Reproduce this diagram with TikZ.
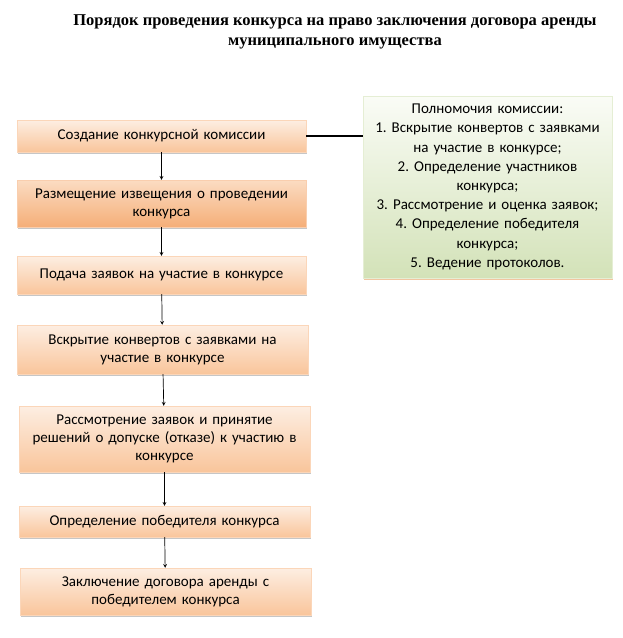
\documentclass[tikz,border=0pt]{standalone}
\usepackage{fontspec}
\setmainfont{Liberation Serif}
\newfontfamily\boxfont{Carlito}
\usetikzlibrary{shadows}
\frenchspacing

\definecolor{peachtop}{HTML}{FDEEE2}
\definecolor{peachbot}{HTML}{F9C59B}
\definecolor{orangetop}{HTML}{FBDCC2}
\definecolor{orangebot}{HTML}{F5AE78}
\definecolor{greentop}{HTML}{FAFCF6}
\definecolor{greenbot}{HTML}{D3E2B8}

\tikzset{
  stepbox/.style={draw=peachbot!70, top color=peachtop, bottom color=peachbot,
    text width=#1, align=center, inner sep=3pt, font=\boxfont\fontsize{15}{18}\selectfont,
    drop shadow={shadow xshift=1.2pt, shadow yshift=-1.5pt, opacity=0.45}},
  stepbox/.default=283pt,
  flow/.style={-stealth, line width=0.7pt}
}

\begin{document}
\begin{tikzpicture}[x=1pt,y=-1pt]
    \useasboundingbox (0,0) rectangle (622,638);

    \node[font=\bfseries\fontsize{16.5}{20}\selectfont, align=center] (title) at (335,32)
      {Порядок проведения конкурса на право заключения договора аренды\\муниципального имущества};

    \node[stepbox, minimum height=32pt] (create) at (161.5,136) {Создание конкурсной комиссии};
    \node[stepbox, minimum height=47pt, top color=orangetop, bottom color=orangebot, draw=orangebot!60]
      (notice) at (161.5,203.5) {Размещение извещения о проведении\\конкурса};
    \node[stepbox, minimum height=38pt] (apply) at (161.5,275) {Подача заявок на участие в конкурсе};
    \node[stepbox=285pt, minimum height=49pt] (open) at (162.5,349.5)
      {Вскрытие конвертов с заявками на\\участие в конкурсе};
    \node[stepbox=285pt, minimum height=66pt] (review) at (164.5,439)
      {Рассмотрение заявок и принятие\\решений о допуске (отказе) к участию в\\конкурсе};
    \node[stepbox=285pt, minimum height=31pt] (winner) at (164.5,521.5) {Определение победителя конкурса};
    \node[stepbox=285pt, minimum height=47pt] (contract) at (165.5,591.5)
      {Заключение договора аренды с\\победителем конкурса};

    \node[draw=greenbot!60, top color=greentop, bottom color=greenbot, text width=243pt,
      minimum height=182pt, align=center, inner sep=3pt, font=\boxfont\fontsize{15}{19.2}\selectfont,
      drop shadow={shadow xshift=1pt, shadow yshift=-1.5pt, fill=peachbot!80!brown, opacity=0.8}]
      (powers) at (487.5,187)
      {Полномочия комиссии:\\
       1. Вскрытие конвертов с заявками\\на участие в конкурсе;\\
       2. Определение участников\\конкурса;\\
       3. Рассмотрение и оценка заявок;\\
       4. Определение победителя\\конкурса;\\
       5. Ведение протоколов.};

    \draw[line width=2pt] (create.east) -- (powers.west |- create.east);

    \draw[flow] (create) -- (notice);
    \draw[flow] (notice) -- (apply);
    \draw[flow] (apply) -- (open);
    \draw[flow] (open) -- (review);
    \draw[flow] (review) -- (winner);
    \draw[flow] (winner) -- (contract);
  \end{tikzpicture}
\end{document}
